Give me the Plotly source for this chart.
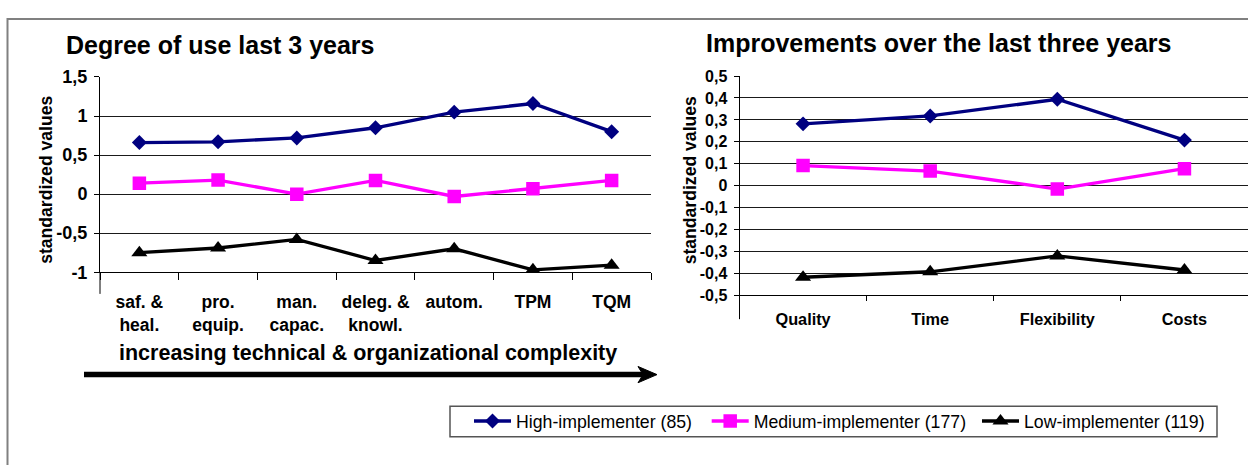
import plotly.graph_objects as go

# ---------------- data ----------------
left_categories = ["saf. &<br>heal.", "pro.<br>equip.", "man.<br>capac.", "deleg. &<br>knowl.",
                   "autom.", "TPM", "TQM"]
left_high = [0.66, 0.67, 0.72, 0.85, 1.05, 1.16, 0.80]
left_medium = [0.14, 0.18, 0.00, 0.175, -0.03, 0.07, 0.175]
left_low = [-0.75, -0.69, -0.58, -0.85, -0.70, -0.97, -0.91]

right_categories = ["Quality", "Time", "Flexibility", "Costs"]
right_high = [0.282, 0.318, 0.394, 0.208]
right_medium = [0.092, 0.067, -0.015, 0.078]
right_low = [-0.417, -0.392, -0.32, -0.384]

left_tickvals = [-1, -0.5, 0, 0.5, 1, 1.5]
left_ticktext = ["-1", "-0,5", "0", "0,5", "1", "1,5"]
right_tickvals = [-0.5, -0.4, -0.3, -0.2, -0.1, 0, 0.1, 0.2, 0.3, 0.4, 0.5]
right_ticktext = ["-0,5", "-0,4", "-0,3", "-0,2", "-0,1", "0", "0,1", "0,2", "0,3", "0,4", "0,5"]

series_names = ["High-implementer (85)", "Medium-implementer (177)", "Low-implementer (119)"]
series_colors = ["#000080", "#FF00FF", "#000000"]
series_symbols = ["diamond", "square", "triangle-up"]
series_sizes = [11.5, 13.5, 14]

# ---------------- figure ----------------
W, H = 1248, 465
FONT = "Liberation Sans, Arial, sans-serif"

def px_x(x):
    return x / W

def px_y(y):
    return 1 - y / H

fig = go.Figure()

left_data = [left_high, left_medium, left_low]
right_data = [right_high, right_medium, right_low]
legend_ids = ["legend", "legend2", "legend3"]

for i in range(3):
    fig.add_trace(go.Scatter(
        x=left_categories, y=left_data[i], name=series_names[i],
        mode="lines+markers",
        line=dict(color=series_colors[i], width=3.3),
        marker=dict(symbol=series_symbols[i], size=series_sizes[i], color=series_colors[i]),
        xaxis="x", yaxis="y", legend=legend_ids[i], showlegend=True,
    ))
for i in range(3):
    fig.add_trace(go.Scatter(
        x=right_categories, y=right_data[i], name=series_names[i],
        mode="lines+markers",
        line=dict(color=series_colors[i], width=3.3),
        marker=dict(symbol=series_symbols[i], size=series_sizes[i], color=series_colors[i]),
        xaxis="x2", yaxis="y2", showlegend=False,
    ))

axis_common = dict(showline=True, linecolor="black", linewidth=1, ticks="outside",
                   tickcolor="black", tickwidth=1)

def legend_at(x_origin):
    return dict(orientation="h", x=px_x(x_origin), y=px_y(430), xanchor="left",
                yanchor="middle", borderwidth=0, bgcolor="rgba(0,0,0,0)",
                font=dict(size=17.7, family=FONT, color="black"), itemwidth=37)

fig.update_layout(
    width=W, height=H,
    margin=dict(l=0, r=0, t=0, b=0),
    paper_bgcolor="white", plot_bgcolor="white",
    font=dict(family=FONT, color="black"),
    xaxis=dict(domain=[px_x(100), px_x(651)], type="category", range=[-0.5, 6.5],
               showgrid=False, tickson="boundaries", ticklen=7,
               tickfont=dict(size=17.5, family=FONT, weight="bold"),
               ticklabelstandoff=14, anchor="y", **axis_common),
    yaxis=dict(domain=[px_y(274), px_y(70)], range=[-1, 1.5],
               tickvals=left_tickvals, ticktext=left_ticktext,
               showgrid=True, gridcolor="#1a1a1a", gridwidth=1, zeroline=False, ticklen=5,
               tickfont=dict(size=18, family=FONT, weight="bold"),
               ticklabelstandoff=3, anchor="x", **axis_common),
    xaxis2=dict(domain=[px_x(739.5), 1.0], type="category", range=[-0.5, 3.5],
                showgrid=False, tickson="boundaries", ticklen=5,
                tickfont=dict(size=16.3, family=FONT, weight="bold"),
                ticklabelstandoff=9, anchor="y2", **axis_common),
    yaxis2=dict(domain=[px_y(298.3), px_y(69)], range=[-0.5, 0.5],
                tickvals=right_tickvals, ticktext=right_ticktext,
                showgrid=True, gridcolor="#1a1a1a", gridwidth=1, zeroline=False, ticklen=5,
                tickfont=dict(size=16, family=FONT, weight="bold"),
                ticklabelstandoff=3, anchor="x2", **axis_common),
    legend=legend_at(469),
    legend2=legend_at(706.7),
    legend3=legend_at(977),
    showlegend=True,
)

annotations = [
    dict(text="<b>Degree of use last 3 years</b>", x=px_x(64), y=px_y(37),
         xanchor="left", yanchor="middle", font=dict(size=25)),
    dict(text="<b>Improvements over the last three years</b>", x=px_x(704), y=px_y(35),
         xanchor="left", yanchor="middle", font=dict(size=25)),
    dict(text="<b>standardized values</b>", x=px_x(46), y=px_y(177.5), textangle=-90,
         xanchor="center", yanchor="middle", font=dict(size=17.6)),
    dict(text="<b>standardized values</b>", x=px_x(690), y=px_y(178), textangle=-90,
         xanchor="center", yanchor="middle", font=dict(size=17.6)),
    dict(text="<b>increasing technical &amp; organizational complexity</b>", x=px_x(368),
         y=px_y(358), xanchor="center", yanchor="middle", font=dict(size=21.5)),
]
for a in annotations:
    a.update(xref="paper", yref="paper", showarrow=False)
fig.update_layout(annotations=annotations)

shapes = [
    # outer frame
    dict(type="rect", xref="paper", yref="paper", x0=px_x(7.5), x1=px_x(1300),
         y0=px_y(9.5), y1=px_y(520), line=dict(color="#808080", width=2), layer="below"),
    # legend frame
    dict(type="rect", xref="paper", yref="paper", x0=px_x(450), x1=px_x(1217),
         y0=px_y(414), y1=px_y(446), line=dict(color="#555555", width=1.5), layer="below"),
    # y-axis line extensions below category axes
    dict(type="line", xref="x domain", yref="y domain", x0=0, x1=0, y0=-0.111, y1=0,
         line=dict(color="black", width=1)),
    dict(type="line", xref="x2 domain", yref="y2 domain", x0=0, x1=0, y0=-0.108, y1=0,
         line=dict(color="black", width=1)),
    # arrow shaft
    dict(type="line", xref="paper", yref="paper", x0=px_x(84), x1=px_x(645),
         y0=px_y(381), y1=px_y(381), line=dict(color="black", width=5.5)),
    # arrow head
    dict(type="path", xref="paper", yref="paper",
         path=f"M {px_x(638)},{px_y(372.5)} L {px_x(657)},{px_y(381)} L {px_x(638)},{px_y(389.5)} L {px_x(643)},{px_y(381)} Z",
         fillcolor="black", line=dict(color="black", width=1)),
]
fig.update_layout(shapes=shapes)

fig.write_html("out.html")
